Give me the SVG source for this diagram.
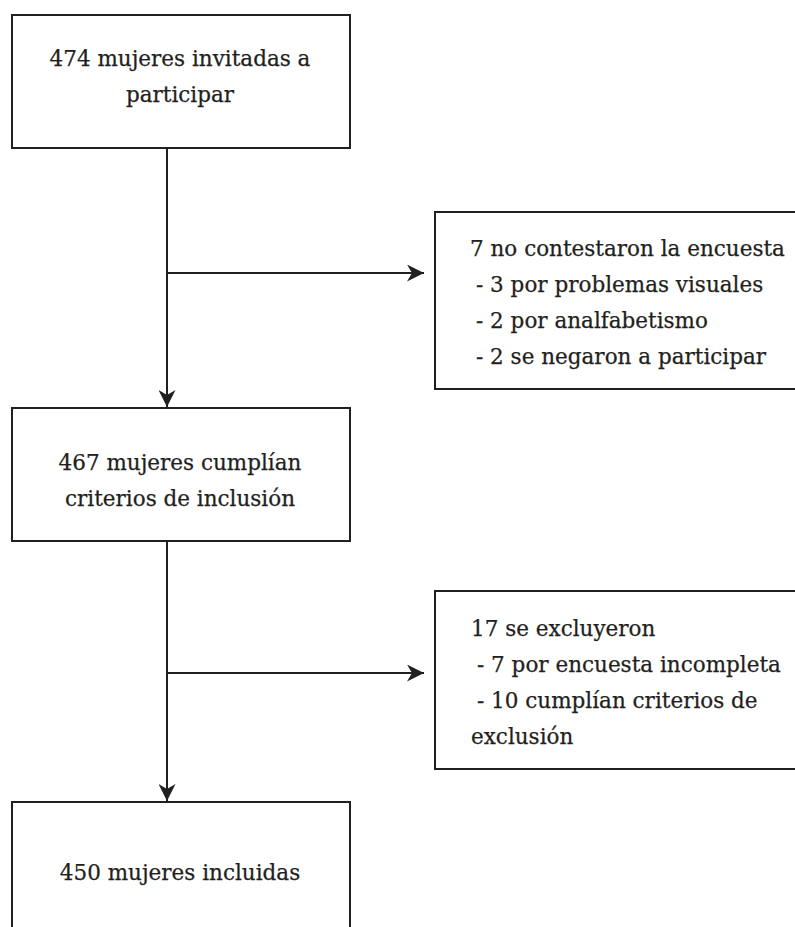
<svg xmlns="http://www.w3.org/2000/svg" width="795" height="927" viewBox="0 0 795 927">
<style>
.box{fill:#fff;stroke:#231f20;stroke-width:2}
.ln{fill:none;stroke:#231f20;stroke-width:2}
text{font-family:"DejaVu Serif","Liberation Serif",serif;font-size:21.5px;fill:#231f20;stroke:#231f20;stroke-width:0.25}
.c{text-anchor:middle}
</style>
<defs>
<marker id="ah" viewBox="0 0 17 17" refX="17" refY="8.5" markerWidth="17" markerHeight="17" markerUnits="userSpaceOnUse" orient="auto">
<path d="M0,0 L17,8.5 L0,17 L5,8.5 Z" fill="#231f20"/>
</marker>
</defs>
<rect width="795" height="927" fill="#fff"/>
<g id="connectors">
<line class="ln" x1="167" y1="148" x2="167" y2="407" marker-end="url(#ah)"/>
<line class="ln" x1="167" y1="273" x2="424" y2="273" marker-end="url(#ah)"/>
<line class="ln" x1="167" y1="541" x2="167" y2="801" marker-end="url(#ah)"/>
<line class="ln" x1="167" y1="673" x2="424" y2="673" marker-end="url(#ah)"/>
</g>
<g id="n1">
<rect class="box" x="12" y="15" width="338" height="133"/>
<text class="c" x="180" y="66">474 mujeres invitadas a</text>
<text class="c" x="180" y="102">participar</text>
</g>
<g id="n2">
<rect class="box" x="435" y="212" width="370" height="177"/>
<text x="470" y="256">7 no contestaron la encuesta</text>
<text x="476" y="292">- 3 por problemas visuales</text>
<text x="476" y="328">- 2 por analfabetismo</text>
<text x="476" y="364">- 2 se negaron a participar</text>
</g>
<g id="n3">
<rect class="box" x="12" y="408" width="338" height="133"/>
<text class="c" x="180" y="470">467 mujeres cumplían</text>
<text class="c" x="180" y="506">criterios de inclusión</text>
</g>
<g id="n4">
<rect class="box" x="435" y="591" width="370" height="178"/>
<text x="471" y="636">17 se excluyeron</text>
<text x="477" y="672">- 7 por encuesta incompleta</text>
<text x="477" y="708">- 10 cumplían criterios de</text>
<text x="471" y="744">exclusión</text>
</g>
<g id="n5">
<rect class="box" x="12" y="802" width="338" height="140"/>
<text class="c" x="180" y="880">450 mujeres incluidas</text>
</g>
</svg>
